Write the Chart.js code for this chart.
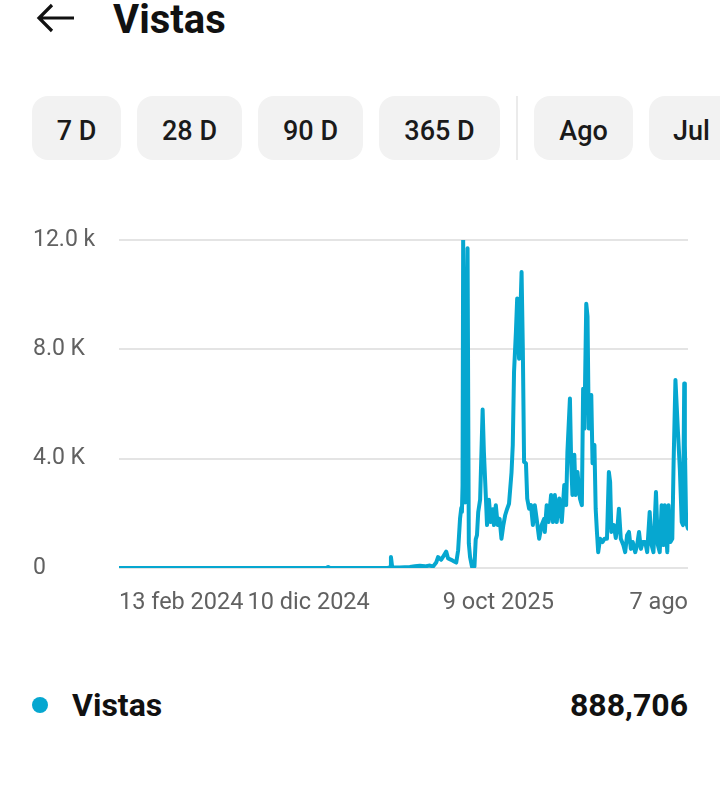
<!DOCTYPE html>
<html>
<head>
<meta charset="utf-8">
<script src="https://cdn.jsdelivr.net/npm/chart.js@4.4.1/dist/chart.umd.min.js"></script>
<style>
  html, body { margin:0; padding:0; background:#ffffff; width:720px; height:806px; overflow:hidden; font-family: Roboto, "Noto Sans", sans-serif; }
  .abs { position:absolute; }
  .title { left:113px; top:0px; font-size:40px; line-height:40px; font-weight:700; color:#111; }
  .pill { top:96px; height:64px; border-radius:16px; background:#f2f2f2; display:flex; align-items:center; justify-content:center; font-size:27px; font-weight:500; color:#1a1a1a; box-sizing:border-box; padding-top:5px; }
  .divider { left:516px; top:96px; width:2px; height:64px; background:#ebebeb; }
  #wrap { left:0; top:210px; width:720px; height:420px; }
  .dot { left:32px; top:697px; width:16px; height:16px; border-radius:50%; background:#06a7d0; }
  .legtxt { top:689px; font-size:32px; line-height:32px; font-weight:700; color:#111; }
</style>
</head>
<body>
<svg class="abs" style="left:0;top:0" width="100" height="40">
  <path d="M74 18 H39 M52 5 L39 18 L52 31" fill="none" stroke="#111" stroke-width="3.2" stroke-linecap="butt" stroke-linejoin="miter"/>
</svg>
<div class="abs title">Vistas</div>

<div class="abs pill" style="left:32px;width:89px;">7 D</div>
<div class="abs pill" style="left:137px;width:105px;">28 D</div>
<div class="abs pill" style="left:258px;width:105px;">90 D</div>
<div class="abs pill" style="left:379px;width:121px;">365 D</div>
<div class="abs divider"></div>
<div class="abs pill" style="left:534px;width:99px;">Ago</div>
<div class="abs pill" style="left:649px;width:100px;justify-content:flex-start;padding-left:24px;">Jul</div>

<div id="wrap" class="abs"><canvas id="c" width="720" height="420"></canvas></div>

<div class="abs dot"></div>
<div class="abs legtxt" style="left:72px;">Vistas</div>
<div class="abs legtxt" style="right:32px;">888,706</div>

<script>
// Day offsets from 13 feb 2024 (daily data)
const days = [0,49,129,209,288,330,333,336,384,428,432,433,435,447,463,471,479,487,495,500,
  505,508,513,517,521,524,529,533,537,540,543,545,546,547,548,551,555,557,559,562,
  564,566,568,570,572,575,579,581,584,586,589,592,595,597,600,603,606,609,612,615,
  618,621,625,627,629,632,634,637,639,641,643,645,648,650,653,656,659,662,665,669,
  673,677,678,681,684,688,691,694,697,701,705,709,712,714,718,720,722,725,727,730,
  734,737,739,741,744,746,748,752,754,757,759,761,763,766,770,773,777,780,782,784,
  788,791,794,796,799,803,806,809,812,815,818,822,825,828,831,834,838,841,845,848,
  851,855,858,861,864,867,869,873,875,878,881,883,886,890,893,896,898,900,901,903,906];
const views = [0,0,0,0,0,0,40,0,0,0,30,400,30,20,40,60,80,60,90,50,
  200,400,300,450,600,350,300,250,200,650,1800,2200,2050,3000,12000,2400,11700,900,400,50,
  40,60,1050,1200,2050,2500,5800,4250,2670,1570,2500,1680,2150,1570,2300,1570,1800,1070,1570,1940,
  2160,2350,3500,4500,7170,8640,9860,7660,9260,10830,8030,3880,3830,2540,2170,2300,1570,2300,1800,1070,
  1570,1800,1320,2300,1680,2670,1680,2670,1680,2540,1680,3040,2300,4250,6200,3830,2670,4140,2670,3510,
  2540,2300,6560,5100,9670,9200,5100,6330,3830,4500,2160,1320,580,1070,950,1070,1070,3510,3150,1320,
  1570,1100,1570,2170,1070,840,580,1200,1320,700,950,580,840,1320,700,950,950,580,2050,840,
  580,2780,840,580,2300,840,2300,580,2300,950,1070,3770,6880,4980,3630,1680,1570,6750,4500,1680,1440];

const xTickDays = [0, 302, 604, 906];
const xTickLabels = ['13 feb 2024', '10 dic 2024', '9 oct 2025', '7 ago'];
const yTickValues = [0, 4000, 8000, 12000];
const yTickLabels = ['0', '4.0 K', '8.0 K', '12.0 k'];

const lineColor = '#06a7d0';
const tickColor = '#616161';

new Chart(document.getElementById('c'), {
  type: 'line',
  data: {
    datasets: [{
      label: 'Vistas',
      data: days.map((d, i) => ({ x: d, y: views[i] })),
      borderColor: lineColor,
      borderWidth: 4,
      pointRadius: 0,
      fill: false,
      tension: 0,
      borderJoinStyle: 'round',
      borderCapStyle: 'round'
    }]
  },
  options: {
    responsive: false,
    animation: false,
    devicePixelRatio: 1,
    layout: { padding: { left: 33, right: 32, top: 30, bottom: 0 } },
    plugins: { legend: { display: false }, tooltip: { enabled: false } },
    scales: {
      x: {
        type: 'linear',
        min: 0,
        max: 906,
        afterBuildTicks: (axis) => { axis.ticks = xTickDays.map(v => ({ value: v })); },
        afterFit: (axis) => { axis.height = 62; },
        grid: { display: false, drawTicks: false },
        border: { display: false },
        ticks: {
          align: 'inner',
          autoSkip: false,
          maxRotation: 0,
          padding: 21,
          color: tickColor,
          font: { family: 'Roboto', size: 23.5 },
          callback: (v, i) => xTickLabels[i]
        }
      },
      y: {
        min: 0,
        max: 12000,
        afterBuildTicks: (axis) => { axis.ticks = yTickValues.map(v => ({ value: v })); },
        afterFit: (axis) => { axis.width = 86; },
        grid: { color: '#e4e4e4', lineWidth: 2, drawTicks: false },
        border: { display: false },
        ticks: {
          crossAlign: 'far',
          padding: 0,
          color: tickColor,
          font: { family: 'Roboto', size: 23 },
          callback: (v, i) => yTickLabels[i]
        }
      }
    }
  }
});
</script>
</body>
</html>
